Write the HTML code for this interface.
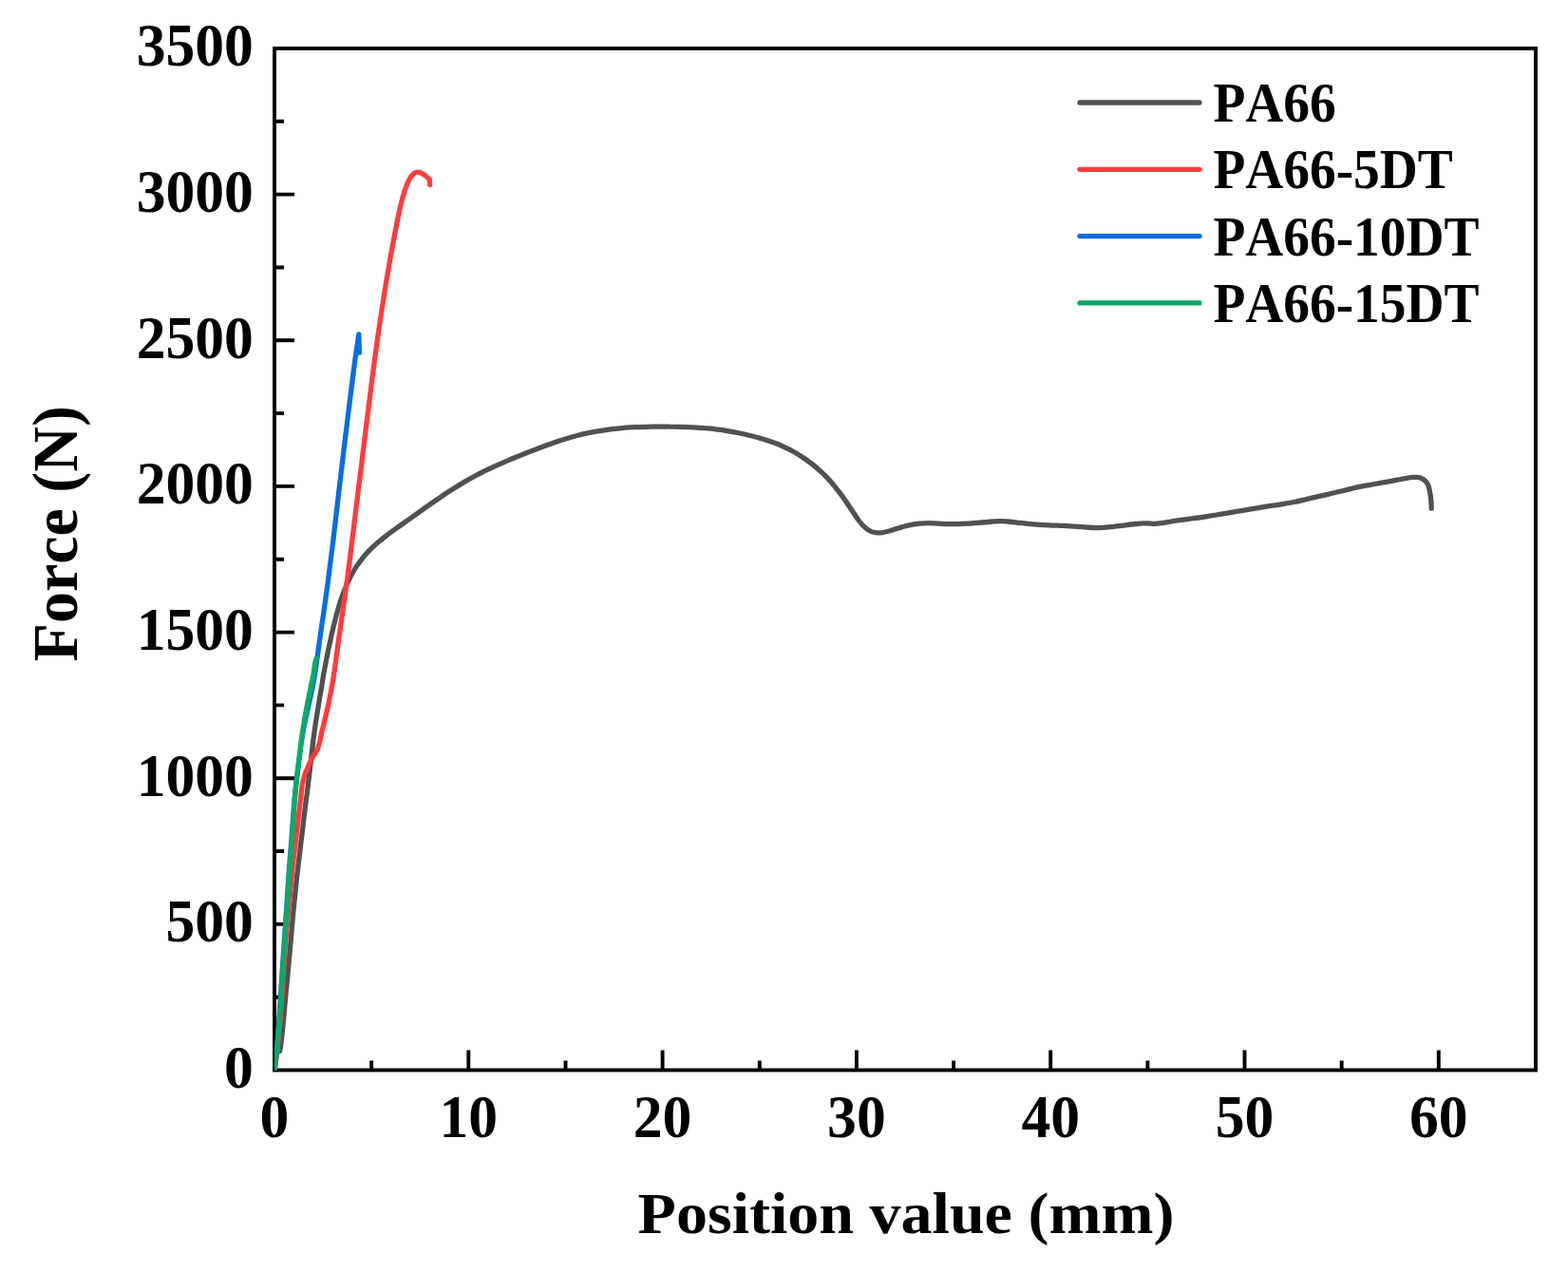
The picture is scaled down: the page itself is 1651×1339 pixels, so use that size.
<!DOCTYPE html>
<html lang="en"><head><meta charset="utf-8"><title>Force vs. position value</title>
<style>
html,body{margin:0;padding:0;background:#fff}
body{width:1651px;height:1339px;overflow:hidden}
svg{display:block}
text{font-family:"Liberation Serif","DejaVu Serif",serif;font-weight:bold;fill:#000;font-kerning:none;font-variant-ligatures:none}
.tk{font-size:61.6px}
.lg{font-size:55.4px}
.c{fill:none;stroke-linecap:round;stroke-linejoin:round}
</style></head><body>
<svg width="1651" height="1339" viewBox="0 0 1651 1339">
<rect width="1651" height="1339" fill="#fff"/>
<rect x="289.0" y="51.0" width="1328.0" height="1075.5" fill="none" stroke="#000" stroke-width="3.9"/>
<path d="M391.2 1126.5v-10M493.3 1126.5v-21M595.5 1126.5v-10M697.6 1126.5v-21M799.8 1126.5v-10M901.9 1126.5v-21M1004.1 1126.5v-10M1106.2 1126.5v-21M1208.4 1126.5v-10M1310.5 1126.5v-21M1412.7 1126.5v-10M1514.8 1126.5v-21M289.0 1049.7h10M289.0 972.9h21M289.0 896h10M289.0 819.2h21M289.0 742.4h10M289.0 665.6h21M289.0 588.8h10M289.0 511.9h21M289.0 435.1h10M289.0 358.3h21M289.0 281.5h10M289.0 204.6h21M289.0 127.8h10" fill="none" stroke="#000" stroke-width="3.9"/>
<clipPath id="plot"><rect x="289.0" y="51.0" width="1328.0" height="1075.5"/></clipPath>
<g clip-path="url(#plot)" class="c" stroke-width="5.3">
<path d="M294.6 1106.5C294.7 1105.7 295 1104.4 295.4 1101.8C295.8 1099.2 296.2 1096.7 296.8 1090.9C297.4 1085.1 298.4 1075 299.1 1067.3C299.8 1059.6 300.5 1051.9 301.1 1044.8C301.8 1037.7 302.4 1032.2 303.1 1024.5C303.8 1016.9 304.6 1007.7 305.4 998.8C306.2 990 307.1 979.3 307.8 971.6C308.5 963.8 309 958 309.6 952.3C310.2 946.5 310.5 943 311.2 937C311.8 931 312.5 923.9 313.4 916.3C314.3 908.8 315.4 898.9 316.3 891.6C317.2 884.2 318.1 877.4 318.7 872.3C319.3 867.1 319.6 864.2 320 860.7C320.5 857.1 320.8 854.6 321.2 850.9C321.7 847.1 322.3 842.7 322.9 838.1C323.5 833.6 324.1 828.4 324.7 823.6C325.3 818.8 325.9 813.6 326.4 809.1C327 804.5 327.5 799.9 327.9 796.3C328.3 792.6 328.6 790.2 328.9 787.1C329.3 784.1 329.5 782 330 778.1C330.5 774.2 331.1 769.3 332 763.6C332.9 757.8 334.1 750.1 335.2 743.6C336.2 737 337.4 729.8 338.4 724.3C339.3 718.8 339.9 714.7 340.6 710.5C341.4 706.2 342 703 342.8 698.8C343.6 694.5 344.5 690 345.5 685C346.6 680 347.8 674.2 349 668.8C350.2 663.3 351.6 657.3 352.9 652.5C354.1 647.7 355.2 643.8 356.3 640C357.4 636.2 358.3 633.3 359.5 630C360.7 626.7 361.8 623.3 363.2 620C364.6 616.7 366 613.3 367.6 610C369.2 606.7 371 603.3 373 600C375 596.7 377.2 593.4 379.8 590.1C382.3 586.8 385.1 583.4 388.2 580.2C391.2 577 394.7 573.8 398.2 570.8C401.7 567.7 405.5 564.9 409 562.2C412.6 559.5 416 557.2 419.4 554.7C422.8 552.3 425.9 550.1 429.4 547.6C432.9 545.1 436.7 542.4 440.6 539.6C444.5 536.8 448.7 533.8 452.7 531C456.7 528.2 460.8 525.4 464.8 522.7C468.8 519.9 472.9 517.3 476.9 514.8C480.9 512.2 485 509.7 489 507.4C493 505 497.1 502.7 501.1 500.5C505.2 498.4 509.2 496.4 513.3 494.4C517.3 492.5 521.4 490.7 525.4 488.9C529.4 487.1 533.5 485.3 537.5 483.6C541.5 481.9 545.6 480.3 549.6 478.7C553.6 477.1 557.7 475.5 561.7 474C565.7 472.5 569.6 471 573.4 469.6C577.2 468.2 580.8 466.8 584.6 465.5C588.5 464.2 592.4 462.9 596.3 461.7C600.3 460.5 604.4 459.3 608.5 458.3C612.5 457.3 616.6 456.4 620.6 455.5C624.6 454.7 628.7 454 632.7 453.3C636.7 452.7 640.8 452.1 644.8 451.6C648.8 451.1 652.9 450.8 656.9 450.4C660.9 450.1 665 449.9 669 449.7C673 449.5 677.1 449.4 681.1 449.3C685.2 449.2 689.2 449.2 693.3 449.1C697.3 449.1 701.4 449.1 705.4 449.2C709.4 449.2 713.5 449.3 717.5 449.4C721.5 449.5 725.6 449.7 729.6 449.9C733.6 450.1 737.7 450.3 741.7 450.7C745.7 451 749.6 451.3 753.4 451.8C757.2 452.2 760.8 452.7 764.6 453.3C768.5 454 772.4 454.7 776.3 455.5C780.3 456.3 784.4 457.2 788.5 458.2C792.5 459.2 796.6 460.2 800.6 461.4C804.6 462.6 808.7 463.8 812.7 465.2C816.7 466.7 820.8 468.2 824.8 470.1C828.8 471.9 832.9 473.9 836.9 476.2C840.9 478.5 845 481.1 849 484C853 486.8 857.1 489.9 861.1 493.5C865.2 497.1 869.2 500.9 873.3 505.4C877.3 509.9 881.6 515.3 885.4 520.4C889.2 525.4 893 531.3 896 535.8C899 540.2 901.3 543.9 903.5 547C905.8 550 907.6 552.2 909.6 554.2C911.6 556.1 913.7 557.6 915.7 558.7C917.7 559.8 919.7 560.3 921.7 560.7C923.7 561 925.5 561 927.8 560.8C930 560.6 932.2 560.1 935.1 559.3C937.9 558.6 941.2 557.4 944.7 556.4C948.3 555.3 952.5 554 956.3 553.2C960.2 552.3 964.2 551.6 967.9 551.2C971.5 550.8 974.8 550.7 978.1 550.7C981.5 550.7 984.5 551 987.8 551.1C991.1 551.2 994.5 551.5 998.1 551.6C1001.7 551.7 1005.7 551.7 1009.6 551.6C1013.6 551.5 1017.7 551.2 1021.8 551C1025.8 550.7 1030.1 550.3 1033.9 550C1037.7 549.6 1041.6 549.2 1044.8 549C1048 548.8 1050.6 548.6 1053.3 548.6C1056 548.6 1058.2 548.8 1061.1 549C1064 549.2 1067.3 549.7 1070.8 550.1C1074.3 550.5 1078.4 551 1082.3 551.4C1086.2 551.7 1090.5 552.1 1094.4 552.3C1098.4 552.6 1102.2 552.8 1105.9 553C1109.6 553.1 1112.8 553.2 1116.3 553.3C1119.9 553.5 1123.3 553.6 1127.1 553.8C1130.8 554 1134.9 554.4 1138.8 554.7C1142.7 555 1146.6 555.4 1150.3 555.5C1154 555.6 1157.5 555.6 1161.2 555.4C1164.9 555.2 1168.8 554.7 1172.7 554.3C1176.6 553.8 1181 553.2 1184.8 552.8C1188.6 552.3 1192.6 551.8 1195.7 551.5C1198.8 551.2 1201.3 550.9 1203.6 550.9C1205.8 550.8 1207.4 551 1209.3 551C1211.2 551.1 1212.9 551.4 1215.1 551.4C1217.3 551.3 1219.6 551.1 1222.6 550.7C1225.7 550.3 1229.5 549.6 1233.3 549C1237.1 548.3 1241.4 547.7 1245.4 547.1C1249.4 546.5 1253.5 546.1 1257.5 545.5C1261.5 545 1265.7 544.4 1269.6 543.8C1273.5 543.3 1277.2 542.6 1280.8 542C1284.4 541.4 1287.5 540.9 1291.1 540.3C1294.6 539.7 1298.3 539.1 1302.2 538.4C1306 537.8 1310.2 537.1 1314.2 536.4C1318.2 535.7 1322.3 535 1326.3 534.3C1330.4 533.6 1334.4 533 1338.5 532.4C1342.5 531.8 1346.6 531.3 1350.6 530.6C1354.6 530 1358.7 529.3 1362.7 528.5C1366.7 527.7 1370.8 526.7 1374.8 525.8C1378.8 524.8 1382.9 523.8 1386.9 522.9C1390.9 521.9 1395 521.1 1399 520.2C1403 519.2 1407.1 518.3 1411.1 517.3C1415.2 516.3 1419.2 515.2 1423.3 514.3C1427.3 513.3 1431.4 512.4 1435.4 511.6C1439.4 510.9 1443.5 510.2 1447.5 509.5C1451.5 508.8 1455.6 508.1 1459.6 507.4C1463.6 506.7 1467.8 505.9 1471.3 505.2C1474.9 504.5 1478.3 503.8 1480.9 503.4C1483.5 502.9 1485.3 502.6 1487.1 502.4C1488.8 502.3 1490.1 502.2 1491.5 502.4C1492.9 502.5 1494.3 502.7 1495.6 503.1C1496.9 503.6 1498.1 504.2 1499.2 505C1500.3 505.8 1501.3 506.7 1502.1 507.9C1502.9 509 1503.5 510.2 1504.1 511.6C1504.6 513.1 1505 514.7 1505.3 516.5C1505.7 518.2 1506 520.2 1506.3 522.2C1506.6 524.2 1506.8 526.1 1506.9 528.3C1507.1 530.5 1507.2 534.1 1507.2 535.2" stroke="#515151"/>
<path d="M289.3 1126.5C289.9 1121.8 291.9 1107.7 292.9 1098.1C293.9 1088.5 294.5 1078 295.3 1069.1C296 1060.2 296.6 1052.2 297.2 1044.8C297.7 1037.3 298.1 1032.2 298.6 1024.5C299.1 1016.9 299.6 1007.7 300.2 998.8C300.9 990 301.8 979.3 302.5 971.6C303.2 963.8 303.9 958 304.4 952.3C305 946.5 305.3 943 305.8 937C306.4 931 307 923.9 307.7 916.3C308.5 908.8 309.7 898.9 310.6 891.6C311.5 884.2 312.3 877.4 312.9 872.3C313.5 867.1 313.8 864.2 314.2 860.7C314.6 857.1 314.9 854.6 315.3 850.9C315.8 847.1 316.3 842.4 316.8 838.1C317.3 833.9 317.8 829 318.4 825.4C319.1 821.8 319.8 819 320.6 816.4C321.4 813.9 322.4 811.9 323.2 810.1C323.9 808.2 324.5 806.7 325.1 805.2C325.7 803.8 326.1 802.6 326.7 801.4C327.3 800.1 328 798.9 328.8 797.7C329.5 796.5 330.4 795.3 331.2 794C332 792.8 332.7 791.8 333.4 790.5C334 789.1 334.6 787.7 335.2 785.9C335.8 784.1 336.4 781.7 337 779.5C337.5 777.2 337.8 775.1 338.5 772.1C339.2 769.1 339.9 766.2 341.1 761.4C342.2 756.6 343.9 749.7 345.3 743.5C346.6 737.3 348.1 729.8 349.2 724.3C350.2 718.8 350.8 715 351.5 710.5C352.2 705.9 352.6 702.7 353.4 697C354.1 691.3 355.1 684 356.2 676.3C357.3 668.6 358.6 659.3 359.8 650.8C361 642.3 362.3 634.1 363.5 625.3C364.7 616.5 366 607.2 367.1 598.1C368.3 588.9 369.6 579.2 370.6 570.3C371.7 561.5 372.7 553.5 373.7 545C374.7 536.6 375.7 528.6 376.8 519.5C377.9 510.5 379.2 500.7 380.4 490.9C381.6 481.1 382.9 470.7 384.1 460.6C385.4 450.5 386.7 439.5 387.9 430.3C389 421.1 390 412.8 391 405.4C391.9 397.9 392.5 393.2 393.5 385.8C394.5 378.4 395.6 370.1 396.9 360.9C398.2 351.7 399.8 340.5 401.3 330.6C402.8 320.7 404.5 310.3 405.9 301.6C407.3 292.8 408.7 284.9 409.9 278C411.1 271.1 412 266 413.1 259.9C414.2 253.9 415.4 247.8 416.6 241.6C417.8 235.4 419.1 228.5 420.4 222.7C421.7 216.9 423 211.4 424.3 206.7C425.6 202.1 426.9 198.2 428.2 194.9C429.5 191.6 430.8 189.1 432.1 187C433.4 185 434.6 183.6 435.9 182.6C437.2 181.6 438.5 181.2 439.8 181.2C441.1 181.1 442.5 181.7 443.9 182.4C445.4 183.1 447.1 184.3 448.5 185.4C449.9 186.5 451.8 188.5 452.4 189.1C452.4 190 452.6 193.8 452.7 194.7" stroke="#FF3C3C"/>
<path d="M289 1126.5C289.5 1121.8 291.1 1107.7 292 1098.1C292.9 1088.5 293.4 1079.3 294.1 1069.1C294.8 1058.9 295.5 1048.1 296.2 1036.8C297 1025.5 297.8 1012.6 298.6 1001.3C299.3 990 300.2 979 300.8 969.1C301.5 959.2 302.1 950.6 302.7 941.8C303.3 933 303.7 925.1 304.4 916.3C305 907.5 305.8 897.9 306.5 889.1C307.2 880.3 307.9 871.2 308.4 863.6C309 856 309.3 850.3 309.9 843.6C310.5 836.9 311.1 830.6 311.9 823.6C312.7 816.6 313.7 808.8 314.6 801.8C315.5 794.8 316.3 788.2 317.2 781.8C318.1 775.4 319 770 320.3 763.6C321.5 757.2 323.2 750.6 324.7 743.6C326.2 736.6 328 729.1 329.4 721.8C330.8 714.5 331.8 707.6 333 700C334.1 692.4 335.1 684.6 336.2 676.3C337.4 668.1 338.7 659 340 650.3C341.2 641.7 342.5 633.1 343.7 624.3C344.9 615.5 346 606.8 347.2 597.6C348.4 588.4 349.7 578.2 350.8 569.1C351.9 559.9 352.9 551 353.9 542.5C354.9 534.1 355.7 526.9 356.7 518.3C357.7 509.7 358.8 500.5 360 490.9C361.1 481.3 362.4 470.7 363.6 460.6C364.9 450.5 366.1 440 367.3 430.3C368.5 420.6 369.7 411.1 370.8 402.3C371.9 393.5 372.9 385.9 374 377.5C375.2 369.1 377.2 356.2 377.8 351.9C377.9 355.1 378.3 368 378.4 371.2" stroke="#076DE3"/>
<path d="M289.1 1126.5C289.2 1125.4 289.3 1122.3 289.6 1120C289.8 1117.7 290.1 1117 290.6 1112.7C291.1 1108.5 291.9 1101.8 292.5 1094.5C293.2 1087.2 293.9 1077.4 294.5 1069.1C295.2 1060.8 295.7 1052.2 296.2 1044.8C296.7 1037.4 297 1032.2 297.5 1024.5C298 1016.9 298.6 1007.7 299.2 998.8C299.8 990 300.5 979.3 301.1 971.6C301.6 963.8 302.1 958 302.5 952.3C302.8 946.5 303 943 303.4 937C303.8 931 304.2 923.9 304.8 916.3C305.3 908.8 306.1 898.9 306.7 891.6C307.2 884.2 307.8 877.7 308.2 872.3C308.6 866.8 308.8 863.6 309.1 858.9C309.5 854.1 309.7 849.5 310.2 843.6C310.7 837.7 311.4 830.1 312.1 823.6C312.8 817 313.7 809.8 314.4 804.3C315 798.8 315.6 794.7 316.1 790.5C316.6 786.2 316.8 783.3 317.4 778.9C318 774.4 318.6 769.5 319.6 763.6C320.5 757.7 321.9 750.1 323.2 743.6C324.4 737 325.9 729.9 327 724.3C328.1 718.7 329.2 714 330 710C330.7 706 330.9 702.8 331.4 700C331.9 697.2 332.6 694.4 332.8 693.3" stroke="#0BAA66"/>
</g>
<g class="tk" text-anchor="end">
<text transform="translate(266.8 1144.8) scale(1 1.018)">0</text>
<text transform="translate(266.8 991.2) scale(1 1.018)">500</text>
<text transform="translate(266.8 837.5) scale(1 1.018)">1000</text>
<text transform="translate(266.8 683.9) scale(1 1.018)">1500</text>
<text transform="translate(266.8 530.2) scale(1 1.018)">2000</text>
<text transform="translate(266.8 376.6) scale(1 1.018)">2500</text>
<text transform="translate(266.8 222.9) scale(1 1.018)">3000</text>
<text transform="translate(266.8 69.3) scale(1 1.018)">3500</text>
</g>
<g class="tk" text-anchor="middle">
<text transform="translate(289 1197.0) scale(1 1.018)">0</text>
<text transform="translate(493.3 1197.0) scale(1 1.018)">10</text>
<text transform="translate(697.6 1197.0) scale(1 1.018)">20</text>
<text transform="translate(901.9 1197.0) scale(1 1.018)">30</text>
<text transform="translate(1106.2 1197.0) scale(1 1.018)">40</text>
<text transform="translate(1310.5 1197.0) scale(1 1.018)">50</text>
<text transform="translate(1514.8 1197.0) scale(1 1.018)">60</text>
</g>
<g class="c" stroke-width="5.3">
<path d="M1137 108H1263" stroke="#515151"/>
<path d="M1137 178.3H1263" stroke="#FF3C3C"/>
<path d="M1137 248.6H1263" stroke="#076DE3"/>
<path d="M1137 318.9H1263" stroke="#0BAA66"/>
</g>
<g class="lg">
<text transform="translate(1277.4 128) scale(1 1.05)">PA66</text>
<text transform="translate(1277.4 198.3) scale(1 1.05)">PA66-5DT</text>
<text transform="translate(1277.4 268.6) scale(1 1.05)">PA66-10DT</text>
<text transform="translate(1277.4 338.9) scale(1 1.05)">PA66-15DT</text>
</g>
<text text-anchor="middle" font-size="60.3" transform="translate(954.0 1297.5) scale(1.095 1)">Position value (mm)</text>
<text text-anchor="middle" font-size="66.7" transform="translate(81 561.7) rotate(-90) scale(0.99 1)">Force (N)</text>
</svg>
</body></html>
